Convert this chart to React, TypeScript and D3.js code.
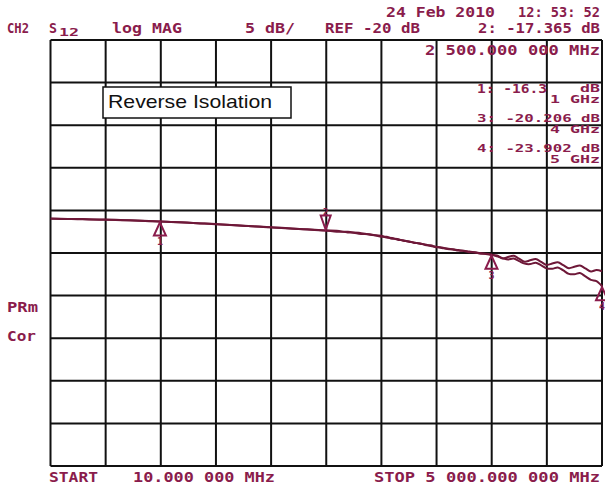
import React from "react";
import * as d3 from "d3";

const freqMHz = [10,100,200,300,400,500,600,700,800,900,1000,1100,1200,1300,1400,1500,1600,1700,1800,1900,2000,2100,2200,2300,2400,2500,2600,2700,2800,2900,3000,
3050,3100,3150,3200,3250,3300,3350,3400,3450,3500,3550,3600,3650,3700,3750,3800,3850,3900,3950,4000,
4050,4100,4150,4200,4250,4300,4350,4400,4450,4500,4550,4600,4650,4700,4750,4800,4850,4900,4950,5000];

const traceA = [-15.96,-15.99,-16.01,-16.02,-16.06,-16.08,-16.11,-16.15,-16.19,-16.24,-16.30,-16.35,-16.40,-16.47,-16.53,-16.60,-16.67,-16.74,-16.82,-16.90,-16.97,-17.04,-17.12,-17.20,-17.28,-17.36,-17.40,-17.58,-17.62,-17.86,-17.98,
-18.18,-18.24,-18.44,-18.50,-18.68,-18.76,-18.92,-19.00,-19.18,-19.26,-19.40,-19.46,-19.58,-19.64,-19.76,-19.82,-19.94,-20.00,-20.12,-20.20,
-20.29,-20.64,-20.48,-20.33,-20.67,-21.02,-20.86,-20.71,-21.05,-21.40,-21.24,-21.09,-21.43,-21.78,-21.62,-21.47,-21.81,-22.16,-22.00,-22.15];

const traceB = [-15.98,-16.00,-16.00,-16.05,-16.07,-16.10,-16.12,-16.17,-16.21,-16.26,-16.31,-16.37,-16.42,-16.48,-16.55,-16.62,-16.69,-16.76,-16.84,-16.91,-16.99,-17.06,-17.14,-17.22,-17.30,-17.37,-17.50,-17.52,-17.74,-17.80,-18.08,
-18.10,-18.32,-18.36,-18.57,-18.62,-18.82,-18.86,-19.06,-19.10,-19.32,-19.34,-19.54,-19.56,-19.72,-19.74,-19.90,-19.92,-20.08,-20.10,-20.22,
-20.40,-20.60,-20.75,-20.65,-20.95,-21.25,-21.30,-21.15,-21.45,-21.80,-21.85,-21.70,-22.05,-22.45,-22.50,-22.35,-22.75,-23.15,-23.30,-23.90];

const markerFreqs = [1000, 2500, 4000, 5000];
const markerVals = [-16.3, -17.365, -20.206, -23.902];
const markerLabels = ["1", "2", "3", "4"];
const markerUp = [true, false, true, true];

const xDivisions = 10;
const yDivisions = 10;

const TXT = "#8a1c4c";
const TRACE = "#6e1838";
const MONO = "'DejaVu Sans Mono', monospace";

function T(props: { x: number; y: number; w: number; s?: number; children: string }) {
  return (
    <text
      x={props.x}
      y={props.y}
      textLength={props.w}
      lengthAdjust="spacingAndGlyphs"
      fontFamily={MONO}
      fontWeight="bold"
      fontSize={props.s ?? 13.5}
      fill={TXT}
    >
      {props.children}
    </text>
  );
}

export default function App() {
  const W = 605, H = 487;
  const left = 50.5, right = 602, top = 40, bottom = 466;
  const x = d3.scaleLinear().domain([10, 5000]).range([left, right]);
  const y = d3.scaleLinear().domain([-45, 5]).range([bottom, top]);
  const xd = d3.scaleLinear().domain([0, xDivisions]).range([left, right]);
  const yd = d3.scaleLinear().domain([0, yDivisions]).range([top, bottom]);

  const line = d3
    .line<number>()
    .x((_, i) => x(freqMHz[i]))
    .y((v) => y(v))
    .curve(d3.curveCatmullRom.alpha(0.5));

  return (
    <svg width={W} height={H} style={{ position: "absolute", left: 0, top: 0, background: "#fff" }}>
      <defs>
        <clipPath id="plotclip">
          <rect x={left} y={top} width={right - left + 2} height={bottom - top} />
        </clipPath>
      </defs>
      <rect x={0} y={0} width={W} height={H} fill="#fff" />
      {d3.range(xDivisions + 1).map((i) => (
        <line key={"v" + i} x1={xd(i)} x2={xd(i)} y1={top} y2={bottom} stroke="#111" strokeWidth={2} />
      ))}
      {d3.range(yDivisions + 1).map((i) => (
        <line key={"h" + i} x1={left} x2={right} y1={yd(i)} y2={yd(i)} stroke="#111" strokeWidth={2} />
      ))}

      <g clipPath="url(#plotclip)">
        <path d={line(traceA) || ""} fill="none" stroke={TRACE} strokeWidth={2} />
        <path d={line(traceB) || ""} fill="none" stroke={TRACE} strokeWidth={2} />
      </g>

      {markerFreqs.map((f, i) => {
        const mx = x(f);
        const my = y(markerVals[i]);
        if (markerUp[i]) {
          return (
            <g key={"m" + i}>
              <path d={`M${mx},${my + 1} L${mx - 6},${my + 14} L${mx + 6},${my + 14} Z`} fill="none" stroke={TXT} strokeWidth={2} />
              <text x={mx} y={my + 24} textAnchor="middle" fontFamily={MONO} fontWeight="bold" fontSize={10} fill={TXT}>
                {markerLabels[i]}
              </text>
            </g>
          );
        }
        return (
          <g key={"m" + i}>
            <path d={`M${mx},${my - 1} L${mx - 5},${my - 15} L${mx + 5},${my - 15} Z`} fill="none" stroke={TXT} strokeWidth={2} />
            <text x={mx} y={my - 16} textAnchor="middle" fontFamily={MONO} fontWeight="bold" fontSize={9} fill={TXT}>
              {markerLabels[i]}
            </text>
          </g>
        );
      })}

      {/* header */}
      <T x={386} y={17} w={109}>24 Feb 2010</T>
      <T x={518} y={17} w={82}>12: 53: 52</T>
      <T x={7} y={33} w={22}>CH2</T>
      <T x={49} y={33} w={8}>S</T>
      <T x={59} y={36} w={20} s={10.5}>12</T>
      <T x={112} y={33} w={70}>log MAG</T>
      <T x={245} y={33} w={50}>5 dB/</T>
      <T x={325} y={33} w={95}>REF -20 dB</T>
      <T x={478} y={33} w={122}>2: -17.365 dB</T>
      <T x={425} y={55} w={175}>2 500.000 000 MHz</T>

      {/* marker readouts */}
      <T x={477} y={93} w={70} s={11.5}>1: -16.3</T>
      <T x={580} y={92} w={20} s={10}>dB</T>
      <T x={550} y={103} w={50} s={10}>1 GHz</T>
      <T x={477} y={122} w={123} s={11}>3: -20.206 dB</T>
      <T x={550} y={133} w={50} s={10}>4 GHz</T>
      <T x={477} y={152} w={123} s={11}>4: -23.902 dB</T>
      <T x={550} y={163} w={50} s={10}>5 GHz</T>

      {/* left labels */}
      <T x={7} y={312} w={31}>PRm</T>
      <T x={7} y={341} w={29}>Cor</T>

      {/* footer */}
      <T x={49} y={482} w={49}>START</T>
      <T x={133} y={482} w={142}>10.000 000 MHz</T>
      <T x={374} y={482} w={226}>STOP 5 000.000 000 MHz</T>

      {/* annotation box */}
      <rect x={103} y={87} width={188} height={31} fill="#fff" stroke="#111" strokeWidth={1.5} />
      <text
        x={108}
        y={108}
        textLength={164}
        lengthAdjust="spacingAndGlyphs"
        fontFamily="'Liberation Sans', Arial, sans-serif"
        fontSize={19}
        fill="#111"
      >
        Reverse Isolation
      </text>
    </svg>
  );
}
